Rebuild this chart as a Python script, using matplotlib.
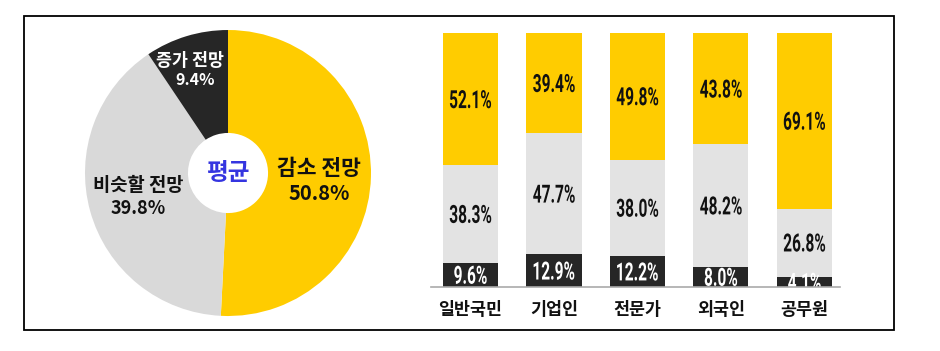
import matplotlib.pyplot as plt
from matplotlib.patches import Rectangle, PathPatch
from matplotlib.textpath import TextPath
from matplotlib.font_manager import FontProperties
import matplotlib.transforms as mtransforms
import numpy as np

plt.rcParams['font.family'] = ['Noto Sans CJK KR', 'DejaVu Sans']

# donut data
pie_labels = ["감소 전망", "비슷할 전망", "증가 전망"]
pie_values = [50.8, 39.8, 9.4]
pie_colors = ["#FFCC00", "#D9D9D9", "#262626"]

# stacked bars
groups = ["일반국민", "기업인", "전문가", "외국인", "공무원"]
increase = [9.6, 12.9, 12.2, 8.0, 4.1]
similar = [38.3, 47.7, 38.0, 48.2, 26.8]
decrease = [52.1, 39.4, 49.8, 43.8, 69.1]

YELLOW = "#FFCC00"
GRAY = "#E3E3E3"
DARK = "#262626"

fig = plt.figure(figsize=(9.4, 3.51), dpi=100)

# outer frame
fig.patches.append(Rectangle((24 / 940, 1 - 330 / 351), 870 / 940, 314 / 351,
                             transform=fig.transFigure, fill=False,
                             edgecolor="black", linewidth=1.3))

# ---- donut ----
ax1 = fig.add_axes([0.0904, 0.0997, 0.3043, 0.8148])
ax1.pie(pie_values, colors=pie_colors, startangle=90, counterclock=False,
        radius=1, wedgeprops=dict(width=0.72, linewidth=0))
ax1.set_xlim(-1, 1)
ax1.set_ylim(-1, 1)
ax1.axis("off")
ax1.text(0, 0.0, "평균", ha="center", va="center", fontsize=17,
         fontweight="bold", color="#3535E0")

# label / percent for each slice
ax1.text(0.636, 0.03, pie_labels[0], ha="center", va="center", fontsize=15.5,
         fontweight="bold", color="#111111")
ax1.text(0.636, -0.14, f"{pie_values[0]}%", ha="center", va="center",
         fontsize=14.5, fontweight="bold", color="#111111")
ax1.text(-0.629, -0.09, pie_labels[1], ha="center", va="center", fontsize=13.5,
         fontweight="bold", color="#111111")
ax1.text(-0.629, -0.245, f"{pie_values[1]}%", ha="center", va="center",
         fontsize=13, fontweight="bold", color="#111111")
ax1.text(-0.266, 0.78, pie_labels[2], ha="center", va="center", fontsize=12.5,
         fontweight="bold", color="white")
ax1.text(-0.231, 0.65, f"{pie_values[2]}%", ha="center", va="center",
         fontsize=11.5, fontweight="bold", color="white")

# ---- stacked bars ----
ax2 = fig.add_axes([0.4585, 0.1823, 0.435, 0.7236])
x = np.arange(len(groups))
w = 0.66
inc = np.array(increase)
sim = np.array(similar)
dec = np.array(decrease)
ax2.bar(x, inc, w, color=DARK)
ax2.bar(x, sim, w, bottom=inc, color=GRAY)
ax2.bar(x, dec, w, bottom=inc + sim, color=YELLOW)

# the value labels use a squeezed (condensed) look
fp = FontProperties(family="Roboto", weight="bold")


def narrow_text(ax, xv, yv, s, color, size=18, sx=0.62):
    tp = TextPath((0, 0), s, size=size, prop=fp)
    ext = tp.get_extents()
    cx = (ext.x0 + ext.x1) / 2
    cy = (ext.y0 + ext.y1) / 2
    tr = (mtransforms.Affine2D().translate(-cx, -cy).scale(sx / 72, 1 / 72)
          + fig.dpi_scale_trans
          + mtransforms.ScaledTranslation(xv, yv, ax.transData))
    ax.add_patch(PathPatch(tp, transform=tr, facecolor=color,
                           edgecolor="none", clip_on=True))


for i in range(len(groups)):
    narrow_text(ax2, x[i], inc[i] / 2, f"{inc[i]:.1f}%", "white")
    narrow_text(ax2, x[i], inc[i] + sim[i] / 2, f"{sim[i]:.1f}%", "#111111")
    narrow_text(ax2, x[i], inc[i] + sim[i] + dec[i] / 2, f"{dec[i]:.1f}%",
                "#111111")

ax2.set_xlim(-0.473, 4.425)
ax2.set_ylim(0, 100)
for s in ["top", "right", "left"]:
    ax2.spines[s].set_visible(False)
ax2.spines["bottom"].set_color("#AAAAAA")
ax2.spines["bottom"].set_linewidth(1.2)
ax2.set_yticks([])
ax2.set_xticks(x)
ax2.set_xticklabels(groups, fontsize=12.5, fontweight="bold", color="#111111")
ax2.tick_params(axis="x", length=0, pad=10)

fig.savefig("out.png", dpi=100)
